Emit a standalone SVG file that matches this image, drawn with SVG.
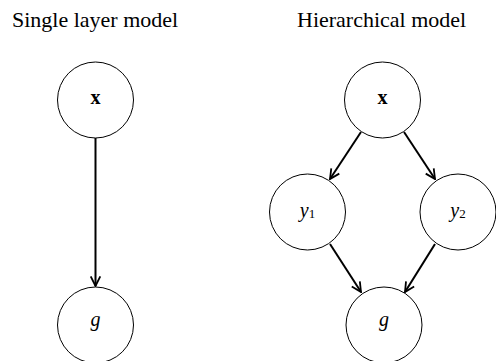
<svg xmlns="http://www.w3.org/2000/svg" width="496" height="361" viewBox="0 0 496 361">
<style>
.title{font-family:"Liberation Serif","Times New Roman",serif;font-size:22px;fill:#000}
.node circle{fill:#fff;stroke:#000;stroke-width:1}
.lbl{font-family:"Liberation Serif","Times New Roman",serif;font-size:20px;fill:#000;text-anchor:middle}
.it{font-style:italic}
.edge{stroke:#000;stroke-width:2;fill:none;marker-end:url(#ah)}
</style>
<defs>
<marker id="ah" viewBox="0 0 10 10" refX="9" refY="5" markerWidth="6" markerHeight="6" orient="auto" markerUnits="strokeWidth">
<path d="M1,1 L9,5 L1,9" fill="none" stroke="#000" stroke-width="1.5"/>
</marker>
</defs>
<text class="title" x="12" y="27">Single layer model</text>
<text class="title" x="297" y="27">Hierarchical model</text>
<g id="connectors">
<line class="edge" x1="95.5" y1="138" x2="95.5" y2="286"/>
<line class="edge" x1="361" y1="132" x2="330" y2="179"/>
<line class="edge" x1="404" y1="132" x2="435" y2="179"/>
<line class="edge" x1="330" y1="244" x2="361" y2="292"/>
<line class="edge" x1="435" y1="244" x2="405" y2="292"/>
</g>
<g id="n_x1" class="node"><circle cx="95.5" cy="100" r="38"/><text class="lbl" x="95.5" y="104" font-weight="bold">x</text></g>
<g id="n_g1" class="node"><circle cx="95.5" cy="325" r="38"/><text class="lbl it" x="95.5" y="326">g</text></g>
<g id="n_x2" class="node"><circle cx="382.5" cy="100" r="38"/><text class="lbl" x="382.5" y="104" font-weight="bold">x</text></g>
<g id="n_y1" class="node"><circle cx="307.5" cy="212" r="38"/><text class="lbl" x="307.5" y="217"><tspan class="it">y</tspan><tspan font-size="13" dy="1">1</tspan></text></g>
<g id="n_y2" class="node"><circle cx="458" cy="212" r="38"/><text class="lbl" x="458" y="217"><tspan class="it">y</tspan><tspan font-size="13" dy="1">2</tspan></text></g>
<g id="n_g2" class="node"><circle cx="384" cy="325" r="38"/><text class="lbl it" x="384" y="326">g</text></g>
</svg>
